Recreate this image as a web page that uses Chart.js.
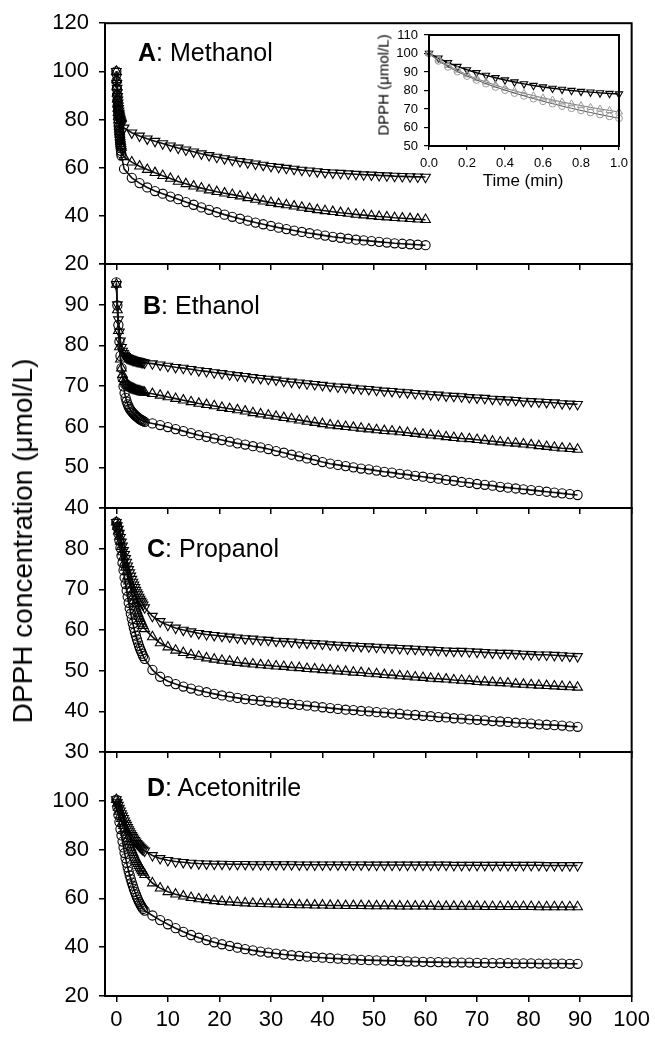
<!DOCTYPE html>
<html><head><meta charset="utf-8">
<script src="https://cdn.jsdelivr.net/npm/chart.js@4.4.1/dist/chart.umd.min.js"></script>
<style>
html,body{margin:0;padding:0;background:#fff;}
#wrap{position:relative;width:655px;height:1038px;overflow:hidden;background:#fff;}
canvas{position:absolute;left:0;top:0;}
.lbl{position:absolute;font-family:'Liberation Sans',Arial,sans-serif;color:#000;white-space:nowrap;line-height:1;z-index:10;font-weight:normal;}
</style></head>
<body><div id="wrap">
<canvas id="cA" width="655" height="1038"></canvas>
<canvas id="cB" width="655" height="1038"></canvas>
<canvas id="cC" width="655" height="1038"></canvas>
<canvas id="cD" width="655" height="1038"></canvas>
<canvas id="cI" width="655" height="1038"></canvas>
<div class="lbl" style="left:23px;top:541px;font-size:28px;transform:translate(-50%,-50%) rotate(-90deg);">DPPH concentration (μmol/L)</div>
<div class="lbl" style="left:138px;top:40px;font-size:25px;"><b>A</b>: Methanol</div>
<div class="lbl" style="left:143px;top:293px;font-size:25px;"><b>B</b>: Ethanol</div>
<div class="lbl" style="left:147px;top:536px;font-size:25px;"><b>C</b>: Propanol</div>
<div class="lbl" style="left:147px;top:775px;font-size:25px;"><b>D</b>: Acetonitrile</div>
<div class="lbl" style="left:383px;top:85px;font-size:15px;transform:translate(-50%,-50%) rotate(-90deg);">DPPH (μmol/L)</div>
<div class="lbl" style="left:523px;top:180px;font-size:17px;transform:translate(-50%,-50%);">Time (min)</div>
</div>
<script>
// ---------- data ----------
const timeA = [0,0.05,0.1,0.15,0.2,0.25,0.3,0.35,0.4,0.45,0.5,0.55,0.6,0.65,0.7,0.75,0.8,0.85,0.9,0.95,1,
  1.5,3,4.5,6,7.5,9,10.5,12,13.5,15,16.5,18,19.5,21,22.5,24,25.5,27,28.5,30,31.5,33,34.5,36,37.5,39,40.5,42,43.5,45,46.5,48,49.5,51,52.5,54,55.5,57,58.5,60];
const methanolCircle = [100,96,92.8,90.2,87.8,85.7,83.7,81.9,80.2,78.6,77.1,75.6,74.2,72.9,71.6,70.4,69.2,68.1,67.0,66.0,65.0,
  59.5,55.8,53.6,51.8,50.3,49.2,48.0,46.9,45.7,44.6,43.5,42.5,41.5,40.5,39.6,38.8,38.0,37.2,36.5,35.8,35.1,34.5,33.9,33.3,32.8,32.3,31.8,31.3,30.9,30.5,30.1,29.8,29.5,29.2,28.9,28.6,28.4,28.2,28.0,27.8];
const methanolUp = [100,96.5,93.5,91,88.5,86.4,84.6,82.9,81.3,79.8,78.5,77.2,76,74.9,73.8,72.8,71.8,70.9,70.0,69.2,68.4,
  64.5,62.3,60.6,59.2,57.9,56.7,55.5,54.3,53.3,52.3,51.5,50.7,50.0,49.4,48.8,48.2,47.5,46.8,46.1,45.5,45.0,44.5,44.0,43.5,43.0,42.5,42.1,41.7,41.3,41.0,40.6,40.3,40.0,39.7,39.5,39.2,39.0,38.8,38.6,38.4];
const methanolDown = [100,97.5,95,93,91.2,89.6,88.2,86.9,85.7,84.6,83.6,82.7,81.9,81.2,80.6,80.0,79.5,79.1,78.7,78.4,78.1,
  76.5,74.5,73.2,72.0,71.0,70.0,69.1,68.2,67.4,66.6,65.8,65.1,64.4,63.8,63.2,62.6,62.1,61.6,61.1,60.6,60.2,59.8,59.4,59.0,58.7,58.4,58.1,57.9,57.7,57.5,57.3,57.1,57.0,56.8,56.7,56.5,56.4,56.3,56.2,56.1];

const timeBCD = [0,0.2,0.4,0.6,0.8,1,1.2,1.4,1.6,1.8,2,2.2,2.4,2.6,2.8,3,3.2,3.4,3.6,3.8,4,4.2,4.4,4.6,4.8,5,5.2,
  5.5,7,8.5,10,11.5,13,14.5,16,17.5,19,20.5,22,23.5,25,26.5,28,29.5,31,32.5,34,35.5,37,38.5,40,41.5,43,44.5,46,47.5,49,50.5,52,53.5,55,56.5,58,59.5,61,62.5,64,65.5,67,68.5,70,71.5,73,74.5,76,77.5,79,80.5,82,83.5,85,86.5,88,89.5];

const ethanolCircle = [95.5,89.8,85.0,80.9,77.4,74.4,71.9,69.9,68.3,67.1,66.2,65.5,64.9,64.4,64.0,63.7,63.4,63.1,62.9,62.6,62.4,62.2,62.0,61.8,61.7,61.5,61.4,
  61.2,60.8,60.4,59.9,59.4,58.9,58.4,57.9,57.5,57.1,56.7,56.3,55.9,55.6,55.2,54.9,54.5,54.0,53.6,53.1,52.7,52.2,51.8,51.3,50.9,50.6,50.3,50.0,49.7,49.5,49.2,48.9,48.7,48.4,48.2,47.9,47.7,47.4,47.2,46.9,46.7,46.4,46.2,45.9,45.7,45.5,45.2,45.0,44.8,44.6,44.4,44.2,44.0,43.8,43.6,43.4,43.2];
const ethanolUp = [95,88.7,83.6,79.6,76.6,74.4,72.8,71.8,71.1,70.7,70.4,70.2,70.0,69.8,69.6,69.5,69.4,69.3,69.1,69.0,68.9,68.8,68.8,68.7,68.6,68.5,68.5,
  68.4,68.1,67.7,67.3,66.9,66.5,66.1,65.7,65.4,65.1,64.7,64.4,64.1,63.8,63.4,63.1,62.8,62.5,62.2,61.9,61.6,61.3,61.0,60.7,60.4,60.2,60.0,59.8,59.6,59.4,59.2,59.0,58.9,58.7,58.5,58.3,58.1,57.9,57.7,57.5,57.3,57.1,57.0,56.8,56.6,56.4,56.2,56.0,55.9,55.7,55.5,55.3,55.1,54.9,54.7,54.6,54.4];
const ethanolDown = [95,90.0,86.3,83.3,81.1,79.5,78.6,78.0,77.6,77.3,77.0,76.9,76.8,76.7,76.6,76.5,76.4,76.3,76.3,76.2,76.1,76.1,76.0,76.0,75.9,75.8,75.8,
  75.7,75.5,75.2,74.9,74.6,74.4,74.1,73.8,73.6,73.3,73.1,72.8,72.6,72.4,72.1,71.9,71.7,71.5,71.2,71.0,70.8,70.6,70.4,70.2,70.0,69.8,69.7,69.5,69.3,69.2,69.0,68.8,68.7,68.5,68.4,68.2,68.1,67.9,67.8,67.6,67.5,67.4,67.2,67.1,67.0,66.8,66.7,66.6,66.5,66.3,66.2,66.1,66.0,65.9,65.7,65.6,65.5];

const propanolCircle = [86.5,85.2,83.7,82.0,80.2,78.3,76.5,74.7,72.9,71.3,69.7,68.2,66.7,65.3,64.0,62.8,61.6,60.5,59.5,58.6,57.7,56.9,56.1,55.4,54.8,54.2,53.6,
  52.9,50.2,48.5,47.4,46.7,46.1,45.6,45.1,44.7,44.3,43.9,43.6,43.3,43.0,42.8,42.6,42.4,42.2,42.0,41.8,41.6,41.4,41.2,41.0,40.8,40.6,40.4,40.3,40.1,40.0,39.8,39.7,39.5,39.4,39.2,39.1,38.9,38.8,38.6,38.5,38.3,38.2,38.0,37.9,37.8,37.6,37.5,37.4,37.2,37.1,37.0,36.8,36.7,36.6,36.5,36.3,36.2];
const propanolUp = [86.5,85.5,84.3,83.0,81.8,80.5,79.2,77.9,76.6,75.4,74.3,73.2,72.0,71.0,70.0,69.0,68.1,67.2,66.4,65.6,64.8,64.1,63.4,62.8,62.2,61.6,61.1,
  60.3,58.3,56.8,55.8,55.0,54.4,53.9,53.5,53.1,52.8,52.5,52.3,52.0,51.8,51.6,51.4,51.3,51.1,51.0,50.8,50.7,50.5,50.4,50.2,50.1,49.9,49.8,49.6,49.5,49.3,49.2,49.0,48.9,48.7,48.6,48.4,48.3,48.1,48.0,47.9,47.7,47.6,47.5,47.3,47.2,47.1,47.0,46.9,46.7,46.6,46.5,46.4,46.3,46.2,46.1,46.0,45.9];
const propanolDown = [86.5,85.7,84.8,83.8,82.8,81.7,80.7,79.6,78.6,77.6,76.7,75.8,74.9,74.1,73.3,72.5,71.8,71.1,70.5,69.8,69.2,68.7,68.1,67.6,67.1,66.7,66.2,
  65.5,63.4,62.1,61.2,60.5,60.0,59.6,59.2,58.9,58.7,58.5,58.3,58.1,57.9,57.8,57.6,57.5,57.3,57.2,57.1,56.9,56.8,56.7,56.6,56.4,56.3,56.2,56.1,56.0,55.9,55.8,55.7,55.6,55.5,55.4,55.3,55.2,55.1,55.0,54.9,54.8,54.8,54.7,54.6,54.5,54.4,54.3,54.3,54.2,54.1,54.0,53.9,53.9,53.8,53.7,53.6,53.5];

const acetonitrileCircle = [100.5,97.3,94.2,91.3,88.4,85.8,83.3,80.9,78.6,76.5,74.6,72.7,71.0,69.4,67.9,66.5,65.2,63.9,62.7,61.6,60.5,59.5,58.6,57.8,57.0,56.3,55.7,
  55.0,53.0,51.1,49.4,47.8,46.3,45.0,43.9,42.9,42.0,41.2,40.5,39.8,39.2,38.7,38.2,37.8,37.4,37.0,36.7,36.4,36.1,35.9,35.7,35.5,35.3,35.1,35.0,34.8,34.7,34.6,34.5,34.4,34.3,34.2,34.1,34.0,33.9,33.9,33.8,33.8,33.7,33.7,33.6,33.6,33.5,33.5,33.5,33.4,33.4,33.4,33.3,33.3,33.3,33.3,33.2,33.2];
const acetonitrileUp = [100.5,98.9,97.3,95.7,94.2,92.7,91.2,89.8,88.4,87.1,85.8,84.5,83.3,82.1,80.9,79.8,78.8,77.8,76.8,75.9,75.0,74.2,73.4,72.7,72.0,71.3,70.7,
  69.7,66.3,64.2,62.7,61.7,60.9,60.3,59.8,59.4,59.0,58.7,58.5,58.3,58.1,57.9,57.8,57.7,57.6,57.5,57.4,57.3,57.3,57.2,57.2,57.1,57.1,57.0,57.0,57.0,56.9,56.9,56.9,56.9,56.8,56.8,56.8,56.8,56.8,56.7,56.7,56.7,56.7,56.7,56.7,56.6,56.6,56.6,56.6,56.6,56.6,56.6,56.5,56.5,56.5,56.5,56.5,56.5];
const acetonitrileDown = [100.5,99.3,98.2,97.0,95.9,94.8,93.8,92.8,91.8,90.9,90.0,89.1,88.2,87.4,86.6,85.8,85.1,84.4,83.8,83.2,82.6,82.1,81.6,81.1,80.7,80.3,79.9,
  79.5,77.6,76.4,75.6,75.1,74.8,74.5,74.3,74.2,74.1,74.1,74.0,74.0,74.0,73.9,73.9,73.9,73.9,73.9,73.9,73.8,73.8,73.8,73.8,73.8,73.8,73.8,73.8,73.8,73.7,73.7,73.7,73.7,73.7,73.7,73.7,73.7,73.7,73.7,73.7,73.6,73.6,73.6,73.6,73.6,73.6,73.6,73.6,73.6,73.6,73.6,73.6,73.5,73.5,73.5,73.5,73.5];

const xTicks = [0,10,20,30,40,50,60,70,80,90,100];
const yTicksA = [20,40,60,80,100,120];
const yTicksB = [40,50,60,70,80,90,100];
const yTicksC = [30,40,50,60,70,80,90];
const yTicksD = [20,40,60,80,100,120];
const insetXTicks = [0,0.2,0.4,0.6,0.8,1.0];
const insetYTicks = [50,60,70,80,90,100,110];

// ---------- drawing ----------
const FONT = "'Liberation Sans', Arial, sans-serif";
Chart.defaults.font.family = FONT;
Chart.defaults.color = '#000';

const framePlugin = {
  id: 'frame',
  afterDatasetsDraw(chart) {
    const a = chart.chartArea, ctx = chart.ctx;
    ctx.save();
    ctx.strokeStyle = '#000';
    ctx.lineWidth = 2;
    ctx.strokeRect(a.left, a.top, a.right - a.left, a.bottom - a.top);
    ctx.restore();
  }
};

function pts(xs, ys) { return ys.map((y, i) => ({x: xs[i], y: y})); }

function ds(xs, ys, shape, o) {
  o = o || {};
  const isCircle = shape === 'circle';
  const d = {
    data: pts(xs, ys),
    showLine: true,
    borderColor: o.line || '#111',
    borderWidth: o.lw || 1.6,
    tension: 0,
    fill: false,
    pointStyle: isCircle ? 'circle' : 'triangle',
    pointRotation: shape === 'down' ? 180 : 0,
    pointRadius: o.r || (isCircle ? 4.6 : 5.6),
    pointHoverRadius: 0,
    pointBorderWidth: o.pbw || 1.1,
    pointBorderColor: o.color || '#000',
    pointBackgroundColor: o.fill || 'rgba(255,255,255,0)'
  };
  if (o.clip !== undefined) d.clip = o.clip;
  return d;
}

function panel(id, xs, sets, yMin, yMax, yTicks, top, bottom, hideTop, showX) {
  new Chart(document.getElementById(id), {
    type: 'scatter',
    data: {datasets: [ds(xs, sets[0], 'circle'), ds(xs, sets[1], 'up'), ds(xs, sets[2], 'down')]},
    options: {
      responsive: false, animation: false, devicePixelRatio: 1, events: [],
      layout: {padding: {top: top, bottom: 1038 - bottom - 40, left: 0, right: 21}},
      plugins: {legend: {display: false}, tooltip: {enabled: false}},
      scales: {
        x: {
          type: 'linear', min: -2.2, max: 100,
          afterFit: s => { s.height = 40; },
          afterBuildTicks: s => { s.ticks = xTicks.map(v => ({value: v})); },
          grid: {drawOnChartArea: false, drawTicks: true, tickLength: 6, color: '#000', lineWidth: 1.5},
          border: {display: false},
          ticks: {color: showX ? '#000' : 'rgba(0,0,0,0)', font: {size: 22}, padding: 5, maxRotation: 0, autoSkip: false}
        },
        y: {
          type: 'linear', min: yMin, max: yMax,
          afterFit: s => { s.width = 105; },
          afterBuildTicks: s => { s.ticks = yTicks.map(v => ({value: v})); },
          grid: {drawOnChartArea: false, drawTicks: true, tickLength: 6, color: '#000', lineWidth: 1.5},
          border: {display: false},
          ticks: {font: {size: 22}, padding: 10, autoSkip: false,
            callback: v => (hideTop && v === yMax) ? '' : String(v)}
        }
      }
    },
    plugins: [framePlugin]
  });
}

panel('cA', timeA, [methanolCircle, methanolUp, methanolDown], 20, 120, yTicksA, 20, 264, false, false);
panel('cB', timeBCD, [ethanolCircle, ethanolUp, ethanolDown], 40, 100, yTicksB, 264, 508, true, false);
panel('cC', timeBCD, [propanolCircle, propanolUp, propanolDown], 30, 90, yTicksC, 508, 752, true, false);
panel('cD', timeBCD, [acetonitrileCircle, acetonitrileUp, acetonitrileDown], 20, 120, yTicksD, 752, 996, true, true);

// inset: first minute of methanol
const nI = timeA.filter(t => t <= 1).length;
const tI = timeA.slice(0, nI);
new Chart(document.getElementById('cI'), {
  type: 'scatter',
  data: {datasets: [
    ds(tI, methanolCircle.slice(0, nI), 'circle', {color: '#9a9a9a', line: '#555', lw: 1, r: 3.4, pbw: 1, clip: false}),
    ds(tI, methanolUp.slice(0, nI), 'up', {color: '#9a9a9a', line: '#777', lw: 1, r: 4, pbw: 1, clip: false}),
    ds(tI, methanolDown.slice(0, nI), 'down', {color: '#000', line: '#000', lw: 1.4, r: 4.2, pbw: 1.1, clip: false})
  ]},
  options: {
    responsive: false, animation: false, devicePixelRatio: 1, events: [],
    layout: {padding: {top: 35, bottom: 1038 - 146 - 30, left: 0, right: 36}},
    plugins: {legend: {display: false}, tooltip: {enabled: false}},
    scales: {
      x: {
        type: 'linear', min: 0, max: 1,
        afterFit: s => { s.height = 30; },
        afterBuildTicks: s => { s.ticks = insetXTicks.map(v => ({value: v})); },
        grid: {drawOnChartArea: false, drawTicks: true, tickLength: 4, color: '#000', lineWidth: 1.2},
        border: {display: false},
        ticks: {font: {size: 13}, padding: 6, maxRotation: 0, autoSkip: false, callback: v => Number(v).toFixed(1)}
      },
      y: {
        type: 'linear', min: 50, max: 110,
        afterFit: s => { s.width = 429; },
        afterBuildTicks: s => { s.ticks = insetYTicks.map(v => ({value: v})); },
        grid: {drawOnChartArea: false, drawTicks: true, tickLength: 5, color: '#000', lineWidth: 1.2},
        border: {display: false},
        ticks: {font: {size: 13}, padding: 6, autoSkip: false}
      }
    }
  },
  plugins: [framePlugin]
});
</script>
</body></html>
